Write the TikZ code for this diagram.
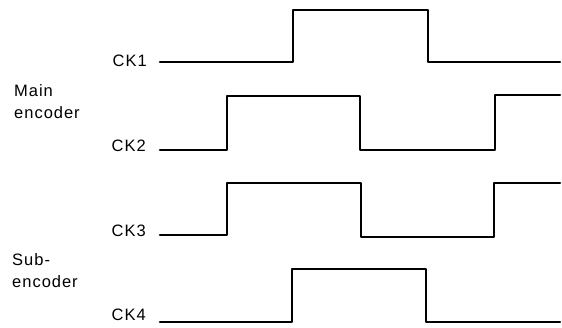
\documentclass[tikz,border=0pt]{standalone}
\usepackage{fontspec}
\setmainfont{Liberation Sans}[LetterSpace=6]
\begin{document}
\begin{tikzpicture}[x=1pt,y=-1pt,
  wave/.style={line width=2.6pt,line join=round,line cap=round,black},
  cklabel/.style={anchor=east,inner sep=0pt,font=\fontsize{16.5}{19}\selectfont},
  grouplabel/.style={anchor=west,inner sep=0pt,align=left,font=\fontsize{16.5}{22}\selectfont}]
\useasboundingbox (0,0) rectangle (562,327);
% labels
\node[cklabel] (ck1) at (147,61) {CK1};
\node[cklabel] (ck2) at (146,146) {CK2};
\node[cklabel] (ck3) at (146,231) {CK3};
\node[cklabel] (ck4) at (146,315) {CK4};
\node[grouplabel] (main) at (14,102) {Main\\encoder};
\node[grouplabel] (sub) at (12,271) {Sub-\\encoder};
% waveforms
\coordinate (s1) at (160,62);
\draw[wave] (s1) -- (293,62) -- (293,10) -- (428,10) -- (428,62) -- (560,62);
\coordinate (s2) at (160,150);
\draw[wave] (s2) -- (227,150) -- (227,96) -- (360,96) -- (360,150) -- (495,150) -- (495,95) -- (560,95);
\coordinate (s3) at (160,235);
\draw[wave] (s3) -- (227,235) -- (227,183) -- (361,183) -- (361,237) -- (494,237) -- (494,183) -- (560,183);
\coordinate (s4) at (160,322);
\draw[wave] (s4) -- (292,322) -- (292,269) -- (426,269) -- (426,322) -- (560,322);
\end{tikzpicture}
\end{document}
